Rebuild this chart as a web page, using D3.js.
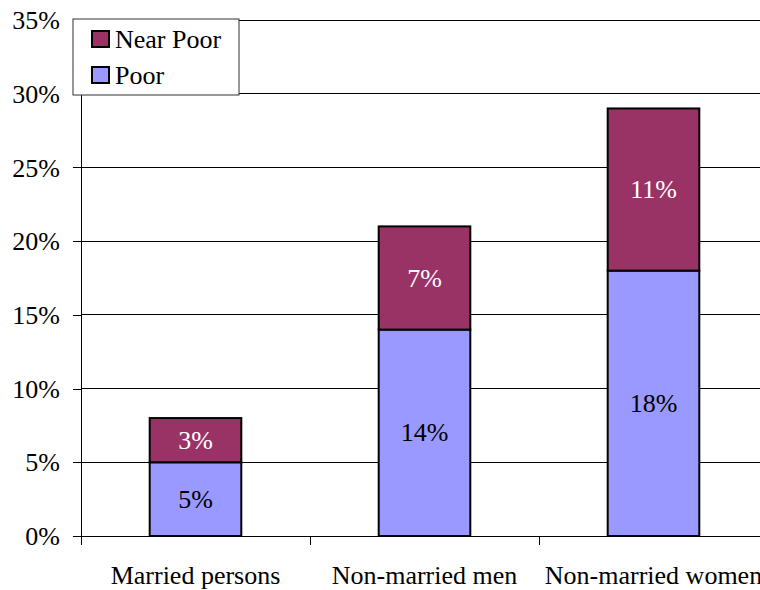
<!DOCTYPE html>
<html>
<head>
<meta charset="utf-8">
<script src="https://cdn.jsdelivr.net/npm/d3@7"></script>
<style>
  body { margin: 0; background: #fff; overflow: hidden; }
</style>
</head>
<body>
<div id="root"></div>
<script>
// chart data
var categories = ["Married persons", "Non-married men", "Non-married women"];
var poor = [5, 14, 18];
var nearPoor = [3, 7, 11];
var seriesNames = ["Near Poor", "Poor"];
var yTicks = [0, 5, 10, 15, 20, 25, 30, 35];

var margin = {top: 20, right: -8, bottom: 54, left: 81},
    width = 760 - margin.left - margin.right,
    height = 590 - margin.top - margin.bottom;

var colors = {"Poor": "#9999ff", "Near Poor": "#993366"};
var font = "'Liberation Serif', 'Times New Roman', serif";

var svg = d3.select("#root").append("svg")
    .attr("width", 760)
    .attr("height", 590)
  .append("g")
    .attr("transform", "translate(" + margin.left + "," + margin.top + ")");

var x = d3.scaleBand()
    .domain(categories)
    .range([0, width])
    .paddingInner(0.6)
    .paddingOuter(0.3);

var xOuter = d3.scaleBand()
    .domain(categories)
    .range([0, width]);

var y = d3.scaleLinear()
    .domain([0, 35])
    .range([height, 0]);

// gridlines
svg.append("g")
    .selectAll("line")
    .data(yTicks.filter(function(d) { return d > 0; }))
    .enter().append("line")
    .attr("x1", 0)
    .attr("x2", width)
    .attr("y1", function(d) { return y(d); })
    .attr("y2", function(d) { return y(d); })
    .attr("stroke", "#000")
    .attr("stroke-width", 1)
    .attr("shape-rendering", "crispEdges");

// y axis
var yAxis = svg.append("g")
    .call(d3.axisLeft(y).tickValues(yTicks).tickSize(8).tickSizeOuter(0)
      .tickFormat(function(d) { return d + "%"; }));
yAxis.select(".domain").remove();
yAxis.append("line")
    .attr("x1", 0).attr("x2", 0)
    .attr("y1", 0).attr("y2", height + 9)
    .attr("stroke", "#000")
    .attr("shape-rendering", "crispEdges");
yAxis.selectAll(".tick line").attr("shape-rendering", "crispEdges");
yAxis.selectAll(".tick text")
    .attr("x", -21)
    .attr("dy", "0.33em")
    .attr("fill", "#000");

// x axis
var xAxis = svg.append("g")
    .attr("transform", "translate(0," + height + ")");
xAxis.append("line")
    .attr("x1", 0).attr("x2", width)
    .attr("stroke", "#000")
    .attr("shape-rendering", "crispEdges");
xAxis.selectAll(".sep")
    .data(categories)
    .enter().append("line")
    .attr("class", "sep")
    .attr("x1", function(d) { return xOuter(d); })
    .attr("x2", function(d) { return xOuter(d); })
    .attr("y1", 0).attr("y2", 9)
    .attr("stroke", "#000")
    .attr("shape-rendering", "crispEdges");
xAxis.selectAll(".cat")
    .data(categories)
    .enter().append("text")
    .attr("class", "cat")
    .attr("x", function(d) { return xOuter(d) + xOuter.bandwidth() / 2; })
    .attr("y", 48)
    .attr("text-anchor", "middle")
    .text(function(d) { return d; });

// stacked bars
var rows = categories.map(function(c, i) {
  return {cat: c, "Poor": poor[i], "Near Poor": nearPoor[i]};
});
var stack = d3.stack().keys(["Poor", "Near Poor"])(rows);

var layers = svg.selectAll(".layer")
    .data(stack)
    .enter().append("g")
    .attr("class", "layer");

layers.selectAll("rect")
    .data(function(d) { return d.map(function(p) { return {key: d.key, p: p}; }); })
    .enter().append("rect")
    .attr("x", function(d) { return x(d.p.data.cat); })
    .attr("width", x.bandwidth())
    .attr("y", function(d) { return y(d.p[1]); })
    .attr("height", function(d) { return y(d.p[0]) - y(d.p[1]); })
    .attr("fill", function(d) { return colors[d.key]; })
    .attr("stroke", "#000")
    .attr("stroke-width", 2);

layers.selectAll(".lbl")
    .data(function(d) { return d.map(function(p) { return {key: d.key, p: p}; }); })
    .enter().append("text")
    .attr("class", "lbl")
    .attr("x", function(d) { return x(d.p.data.cat) + x.bandwidth() / 2; })
    .attr("y", function(d) { return (y(d.p[0]) + y(d.p[1])) / 2; })
    .attr("dy", "0.33em")
    .attr("text-anchor", "middle")
    .attr("fill", function(d) { return d.key === "Near Poor" ? "#fff" : "#000"; })
    .text(function(d) { return (d.p[1] - d.p[0]) + "%"; });

// legend
var legend = svg.append("g")
    .attr("transform", "translate(-8,-1)");
legend.append("rect")
    .attr("width", 166)
    .attr("height", 76)
    .attr("fill", "#fff")
    .attr("stroke", "#333")
    .attr("stroke-width", 1);
var items = legend.selectAll(".item")
    .data(seriesNames)
    .enter().append("g")
    .attr("class", "item")
    .attr("transform", function(d, i) { return "translate(19," + (12 + i * 36) + ")"; });
items.append("rect")
    .attr("width", 17)
    .attr("height", 16)
    .attr("fill", function(d) { return colors[d]; })
    .attr("stroke", "#000")
    .attr("stroke-width", 2);
items.append("text")
    .attr("x", 23)
    .attr("y", 8)
    .attr("dy", "0.33em")
    .text(function(d) { return d; });

// serif font everywhere
svg.selectAll("text")
    .attr("font-family", null)
    .style("font-family", font)
    .style("font-size", "26px");
</script>
</body>
</html>
